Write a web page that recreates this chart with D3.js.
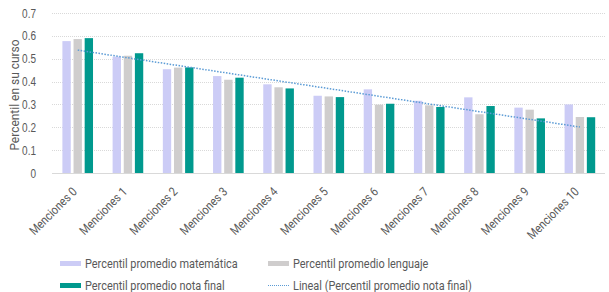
<!DOCTYPE html>
<html>
<head>
<meta charset="utf-8">
<script src="https://cdn.jsdelivr.net/npm/d3@7"></script>
<style>
  body { margin: 0; background: #fff; }
  svg { display: block; font-family: "Roboto", sans-serif; }
</style>
</head>
<body>
<div id="chart"></div>
<script>
// data
const categories = ['Menciones 0', 'Menciones 1', 'Menciones 2', 'Menciones 3', 'Menciones 4',
  'Menciones 5', 'Menciones 6', 'Menciones 7', 'Menciones 8', 'Menciones 9', 'Menciones 10'];
const matematica = [0.577, 0.509, 0.454, 0.424, 0.388, 0.338, 0.366, 0.316, 0.331, 0.286, 0.300];
const lenguaje   = [0.586, 0.513, 0.461, 0.408, 0.375, 0.335, 0.299, 0.296, 0.257, 0.277, 0.245];
const notaFinal  = [0.590, 0.524, 0.462, 0.417, 0.370, 0.332, 0.303, 0.289, 0.293, 0.239, 0.244];
const yTicks = [0, 0.1, 0.2, 0.3, 0.4, 0.5, 0.6, 0.7];
const seriesNames = ['Percentil promedio matemática', 'Percentil promedio lenguaje', 'Percentil promedio nota final'];
const trendName = 'Lineal (Percentil promedio nota final)';

const colors = ['#ccccf6', '#cfcdcd', '#00998e'];
const textColor = '#595959';

const w = 609, h = 292;
const svg = d3.select('#chart').append('svg').attr('width', w).attr('height', h);

// squeeze Roboto a bit so it looks like the narrow font of the original
const condense = (sel, k) => sel.each(function () {
  const len = this.getComputedTextLength();
  d3.select(this).attr('textLength', len * k).attr('lengthAdjust', 'spacingAndGlyphs');
});

// scales
const x = d3.scaleBand().domain(categories).range([52.6, 605]);
const xSub = d3.scaleBand().domain([0, 1, 2]).range([0, x.bandwidth()])
  .paddingInner(0.25).paddingOuter(0.88);
const y = d3.scaleLinear().domain([0, 0.7]).range([173, 13]);

// gridlines
svg.append('g').selectAll('line')
  .data(yTicks.filter(d => d > 0))
  .enter().append('line')
  .attr('x1', 52).attr('x2', 605)
  .attr('y1', d => Math.round(y(d)) + 0.5).attr('y2', d => Math.round(y(d)) + 0.5)
  .attr('stroke', '#d9d9d9').attr('stroke-dasharray', '1,1');

// y axis labels
const yAxis = d3.axisLeft(y).tickValues(yTicks).tickSize(0).tickPadding(0)
  .tickFormat(d => d === 0 ? '0' : d3.format('.1f')(d));
const ya = svg.append('g').attr('transform', 'translate(36,0)').call(yAxis);
ya.select('.domain').remove();
ya.selectAll('text').attr('fill', textColor).style('font-size', '12.5px')
  .style('font-family', 'inherit').call(condense, 0.8);

// bars
const rows = categories.map((c, i) => ({ cat: c, vals: [matematica[i], lenguaje[i], notaFinal[i]] }));
const groups = svg.append('g').selectAll('g')
  .data(rows).enter().append('g')
  .attr('transform', d => 'translate(' + x(d.cat) + ',0)');
groups.selectAll('rect')
  .data(d => d.vals)
  .enter().append('rect')
  .attr('x', (d, i) => xSub(i))
  .attr('width', xSub.bandwidth())
  .attr('y', d => y(d))
  .attr('height', d => y(0) - y(d))
  .attr('fill', (d, i) => colors[i]);

// baseline
svg.append('line')
  .attr('x1', 52).attr('x2', 605)
  .attr('y1', 173.5).attr('y2', 173.5)
  .attr('stroke', '#d9d9d9');

// trendline (least squares over nota final)
const xs = notaFinal.map((d, i) => i);
const mx = d3.mean(xs), my = d3.mean(notaFinal);
const slope = d3.sum(xs, i => (i - mx) * (notaFinal[i] - my)) / d3.sum(xs, i => (i - mx) * (i - mx));
const icpt = my - slope * mx;
const trend = [0, categories.length - 1].map(i => [x(categories[i]) + x.bandwidth() / 2, y(icpt + slope * i)]);
svg.append('path')
  .attr('d', d3.line()(trend))
  .attr('fill', 'none')
  .attr('stroke', '#5b9bd5')
  .attr('stroke-width', 1.5)
  .attr('stroke-dasharray', '1.5,1.5');

// x labels
svg.append('g').selectAll('text')
  .data(categories).enter().append('text')
  .attr('transform', d => 'translate(' + (x(d) + x.bandwidth() / 2) + ',192.5) rotate(-45)')
  .attr('text-anchor', 'end')
  .attr('fill', textColor)
  .style('font-size', '12.5px')
  .text(d => d)
  .call(condense, 0.86);

// y title
svg.append('text')
  .attr('transform', 'translate(19,95) rotate(-90)')
  .attr('text-anchor', 'middle')
  .attr('fill', textColor)
  .style('font-size', '13px')
  .text('Percentil en su curso')
  .call(condense, 0.92);

// legend
const legendItems = [
  { name: seriesNames[0], color: colors[0], lx: 60, ly: 268 },
  { name: seriesNames[1], color: colors[1], lx: 268, ly: 268 },
  { name: seriesNames[2], color: colors[2], lx: 60, ly: 290 },
  { name: trendName, color: '#5b9bd5', lx: 268, ly: 290, line: true }
];
const lg = svg.append('g').selectAll('g')
  .data(legendItems).enter().append('g')
  .attr('transform', d => 'translate(' + d.lx + ',' + d.ly + ')');
lg.filter(d => !d.line).append('rect')
  .attr('x', 0).attr('y', -7).attr('width', 21).attr('height', 5)
  .attr('fill', d => d.color);
lg.filter(d => d.line).append('line')
  .attr('x1', 0).attr('x2', 21).attr('y1', -4.5).attr('y2', -4.5)
  .attr('stroke', d => d.color).attr('stroke-width', 1)
  .attr('stroke-dasharray', '1,1');
lg.append('text')
  .attr('x', 25)
  .attr('fill', textColor)
  .style('font-size', '13px')
  .text(d => d.name)
  .call(condense, 0.84);
</script>
</body>
</html>
